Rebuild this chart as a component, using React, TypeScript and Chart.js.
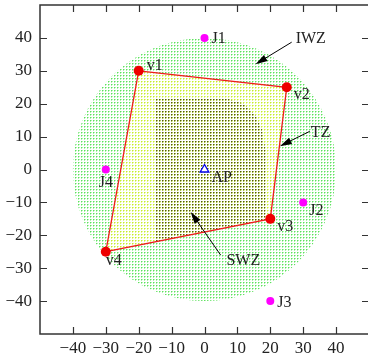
import React, { useEffect, useRef } from 'react';
import { Chart, registerables } from 'chart.js';

Chart.register(...registerables);

// ---- data ----
const vertexX = [-20, 25, 20, -30];
const vertexY = [30, 25, -15, -25];
const vertexLabels = ['v1', 'v2', 'v3', 'v4'];

const jammerX = [0, 30, 20, -30];
const jammerY = [40, -10, -40, 0];
const jammerLabels = ['J1', 'J2', 'J3', 'J4'];

const apX = [0];
const apY = [0];
const apLabels = ['AP'];

const iwzCenterX = 0;
const iwzCenterY = 0;
const iwzRadius = 40;

const swzX = [-15, 7, 12, 15.5, 17.5, 18.5, 18.5, -15];
const swzY = [21.5, 21.5, 20, 16.5, 12, 6, -15.3, -22];

const xTickValues = [-40, -30, -20, -10, 0, 10, 20, 30, 40];
const yTickValues = [-40, -30, -20, -10, 0, 10, 20, 30, 40];
const axisMin = -50;
const axisMax = 50;

const zoneLabels = ['IWZ', 'TZ', 'SWZ'];
const zoneTextX = [32.3, 35.3, 11.8];
const zoneTextY = [39.6, 11.3, -27.9];
const zoneArrowFromX = [26.5, 32.0, 4.9];
const zoneArrowFromY = [38.7, 11.6, -26.0];
const zoneArrowToX = [15.5, 22.9, -4.2];
const zoneArrowToY = [32.0, 7.1, -12.9];

// ---- styles (pixel offsets of point labels) ----
const vertexLabelOffsets = [
  { dx: 8, dy: -5, align: 'left' },
  { dx: 7, dy: 8, align: 'left' },
  { dx: 7, dy: 7.5, align: 'left' },
  { dx: 0, dy: 9, align: 'left' },
];
const jammerLabelOffsets = [
  { dx: 7, dy: 1, align: 'left' },
  { dx: 6, dy: 8, align: 'left' },
  { dx: 7, dy: 1.5, align: 'left' },
  { dx: 0, dy: 13, align: 'center' },
];
const apLabelOffsets = [{ dx: 7, dy: 8, align: 'left' }];

const FONT = '"Liberation Serif", "Times New Roman", serif';
const TEXT_COLOR = '#222';
const AXIS_COLOR = '#333';
const PLOT_LEFT = 40;
const PLOT_TOP = 5;
const PLOT_RIGHT = 369;
const PLOT_BOTTOM = 334;
const CANVAS_W = 370;
const CANVAS_H = 362;

function makePattern(cells: [number, number, string][]) {
  const c = document.createElement('canvas');
  c.width = 3;
  c.height = 3;
  const g = c.getContext('2d')!;
  cells.forEach(([px, py, col]) => {
    g.fillStyle = col;
    g.fillRect(px, py, 1, 1);
  });
  return g.createPattern(c, 'repeat')!;
}

const closed = (xs: number[], ys: number[]) => {
  const pts = xs.map((v, i) => ({ x: v, y: ys[i] }));
  pts.push({ x: xs[0], y: ys[0] });
  return pts;
};

const fmt = (v: number) => (v < 0 ? '\u2212' + Math.abs(v) : String(v));

// pin the plot area to the reference frame
const pinArea = {
  id: 'pinArea',
  afterLayout(chart: any) {
    const a = chart.chartArea;
    a.left = PLOT_LEFT;
    a.top = PLOT_TOP;
    a.right = PLOT_RIGHT;
    a.bottom = PLOT_BOTTOM;
    a.width = PLOT_RIGHT - PLOT_LEFT;
    a.height = PLOT_BOTTOM - PLOT_TOP;
    const xs = chart.scales.x;
    xs.left = PLOT_LEFT;
    xs.right = PLOT_RIGHT;
    xs.width = PLOT_RIGHT - PLOT_LEFT;
    xs.top = PLOT_BOTTOM;
    xs.bottom = CANVAS_H;
    xs.height = CANVAS_H - PLOT_BOTTOM;
    xs.configure();
    const ys = chart.scales.y;
    ys.top = PLOT_TOP;
    ys.bottom = PLOT_BOTTOM;
    ys.height = PLOT_BOTTOM - PLOT_TOP;
    ys.left = 0;
    ys.right = PLOT_LEFT;
    ys.width = PLOT_LEFT;
    ys.configure();
  },
};

const overlay = {
  id: 'overlay',
  afterDatasetsDraw(chart: any) {
    const { ctx, chartArea: a, scales } = chart;
    const xs = scales.x;
    const ys = scales.y;
    ctx.save();
    // frame
    ctx.strokeStyle = AXIS_COLOR;
    ctx.lineWidth = 1.5;
    ctx.strokeRect(a.left, a.top, a.right - a.left, a.bottom - a.top);
    // inward ticks on all sides
    ctx.lineWidth = 1.2;
    ctx.beginPath();
    xTickValues.forEach((v) => {
      const px = Math.round(xs.getPixelForValue(v)) + 0.5;
      ctx.moveTo(px, a.bottom);
      ctx.lineTo(px, a.bottom - 7);
      ctx.moveTo(px, a.top);
      ctx.lineTo(px, a.top + 7);
    });
    yTickValues.forEach((v) => {
      const py = Math.round(ys.getPixelForValue(v)) + 0.5;
      ctx.moveTo(a.left, py);
      ctx.lineTo(a.left + 7, py);
      ctx.moveTo(a.right, py);
      ctx.lineTo(a.right - 7, py);
    });
    ctx.stroke();

    // point labels
    ctx.fillStyle = TEXT_COLOR;
    ctx.font = '16px ' + FONT;
    ctx.textBaseline = 'middle';
    const drawLabels = (lx: number[], ly: number[], labels: string[], offs: any[]) => {
      labels.forEach((t, i) => {
        const px = xs.getPixelForValue(lx[i]);
        const py = ys.getPixelForValue(ly[i]);
        ctx.textAlign = offs[i].align;
        ctx.fillText(t, px + offs[i].dx, py + offs[i].dy);
      });
    };
    drawLabels(vertexX, vertexY, vertexLabels, vertexLabelOffsets);
    drawLabels(jammerX, jammerY, jammerLabels, jammerLabelOffsets);
    drawLabels(apX, apY, apLabels, apLabelOffsets);

    // zone labels + arrows
    zoneLabels.forEach((t, i) => {
      ctx.textAlign = 'center';
      ctx.fillText(t, xs.getPixelForValue(zoneTextX[i]), ys.getPixelForValue(zoneTextY[i]));
      const x0 = xs.getPixelForValue(zoneArrowFromX[i]);
      const y0 = ys.getPixelForValue(zoneArrowFromY[i]);
      const x1 = xs.getPixelForValue(zoneArrowToX[i]);
      const y1 = ys.getPixelForValue(zoneArrowToY[i]);
      const ang = Math.atan2(y1 - y0, x1 - x0);
      const hl = 12;
      const hw = 3.5;
      ctx.strokeStyle = '#000';
      ctx.lineWidth = 1;
      ctx.beginPath();
      ctx.moveTo(x0, y0);
      ctx.lineTo(x1 - Math.cos(ang) * hl * 0.8, y1 - Math.sin(ang) * hl * 0.8);
      ctx.stroke();
      ctx.fillStyle = '#000';
      ctx.beginPath();
      ctx.moveTo(x1, y1);
      ctx.lineTo(
        x1 - Math.cos(ang) * hl - Math.sin(ang) * hw,
        y1 - Math.sin(ang) * hl + Math.cos(ang) * hw
      );
      ctx.lineTo(
        x1 - Math.cos(ang) * hl + Math.sin(ang) * hw,
        y1 - Math.sin(ang) * hl - Math.cos(ang) * hw
      );
      ctx.closePath();
      ctx.fill();
      ctx.fillStyle = TEXT_COLOR;
    });
    ctx.restore();
  },
};

export default function App() {
  const ref = useRef<HTMLCanvasElement>(null);
  useEffect(() => {
    const canvas = ref.current!;
    const greenPattern = makePattern([
      [0, 0, '#5ee05e'],
      [1, 0, '#b0f4b0'],
      [0, 1, '#b0f4b0'],
    ]);
    const yellowPattern = makePattern([
      [0, 0, '#c4ec30'],
      [1, 0, '#e4f890'],
      [0, 1, '#e4f890'],
    ]);
    const darkPattern = makePattern([
      [0, 0, '#50521a'],
      [1, 0, '#a8bc48'],
      [0, 1, '#a8bc48'],
      [1, 1, '#eaf8b8'],
    ]);

    const tickOpts = {
      autoSkip: false,
      maxRotation: 0,
      color: TEXT_COLOR,
      font: { family: FONT, size: 17 },
      callback: (v: number) => fmt(v),
    };

    const chart = new Chart(canvas, {
      type: 'scatter',
      data: {
        datasets: [
          {
            label: 'IWZ',
            data: [{ x: iwzCenterX, y: iwzCenterY }],
            pointRadius: (c: any) =>
              c.chart.scales.x.getPixelForValue(iwzCenterX + iwzRadius) -
              c.chart.scales.x.getPixelForValue(iwzCenterX),
            pointBackgroundColor: greenPattern,
            pointBorderColor: 'transparent',
            pointBorderWidth: 0,
            order: 6,
          } as any,
          {
            type: 'line',
            label: 'TZ',
            data: closed(vertexX, vertexY),
            showLine: true,
            borderColor: 'transparent',
            backgroundColor: yellowPattern,
            fill: 'shape',
            pointRadius: 0,
            tension: 0,
            order: 5,
          } as any,
          {
            type: 'line',
            label: 'SWZ',
            data: closed(swzX, swzY),
            showLine: true,
            borderColor: 'transparent',
            backgroundColor: darkPattern,
            fill: 'shape',
            pointRadius: 0,
            tension: 0,
            order: 4,
          } as any,
          {
            type: 'line',
            label: 'polygon',
            data: closed(vertexX, vertexY),
            showLine: true,
            borderColor: '#ee1c1c',
            borderWidth: 1.3,
            fill: false,
            tension: 0,
            pointRadius: [5, 5, 5, 5, 0],
            pointBackgroundColor: '#ee0000',
            pointBorderColor: '#ee0000',
            pointBorderWidth: 0,
            order: 3,
          } as any,
          {
            label: 'jammers',
            data: jammerX.map((v, i) => ({ x: v, y: jammerY[i] })),
            pointRadius: 4,
            pointBackgroundColor: '#ff00ff',
            pointBorderColor: '#ff00ff',
            pointBorderWidth: 0,
            order: 2,
          } as any,
          {
            label: 'AP',
            data: apX.map((v, i) => ({ x: v, y: apY[i] })),
            pointStyle: 'triangle',
            pointRadius: 5,
            pointBackgroundColor: '#ffffff',
            pointBorderColor: '#0000ee',
            pointBorderWidth: 1.3,
            order: 1,
          } as any,
        ],
      },
      options: {
        responsive: false,
        animation: false,
        devicePixelRatio: 1,
        events: [],
        layout: { padding: { top: 5, right: 1, left: 0, bottom: 0 } },
        plugins: {
          legend: { display: false },
          tooltip: { enabled: false },
        },
        scales: {
          x: {
            type: 'linear',
            min: axisMin,
            max: axisMax,
            grid: { display: false, drawTicks: false },
            border: { display: false },
            ticks: { ...tickOpts, padding: 4 },
            afterBuildTicks: (s: any) => {
              s.ticks = xTickValues.map((v) => ({ value: v }));
            },
            afterFit: (s: any) => {
              s.height = 28;
              s.paddingLeft = 0;
              s.paddingRight = 0;
            },
          },
          y: {
            type: 'linear',
            min: axisMin,
            max: axisMax,
            grid: { display: false, drawTicks: false },
            border: { display: false },
            ticks: { ...tickOpts, padding: 8 },
            afterBuildTicks: (s: any) => {
              s.ticks = yTickValues.map((v) => ({ value: v }));
            },
            afterFit: (s: any) => {
              s.width = 40;
              s.paddingTop = 0;
              s.paddingBottom = 0;
            },
          },
        },
      } as any,
      plugins: [pinArea, overlay],
    });
    return () => chart.destroy();
  }, []);

  return (
    <div
      style={{
        position: 'fixed',
        left: 0,
        top: 0,
        width: 368,
        height: 362,
        overflow: 'hidden',
        background: '#fff',
      }}
    >
      <canvas ref={ref} width={CANVAS_W} height={CANVAS_H} style={{ display: 'block' }} />
    </div>
  );
}
